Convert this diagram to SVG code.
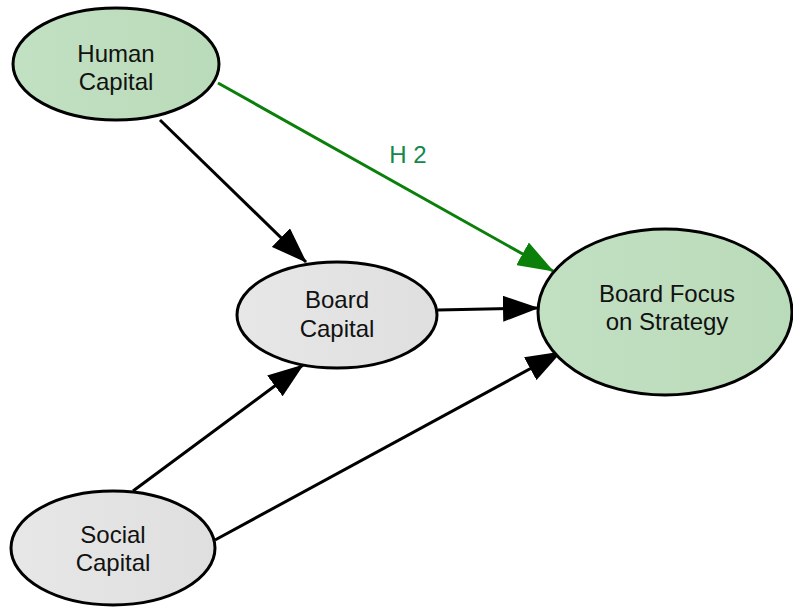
<svg xmlns="http://www.w3.org/2000/svg" width="793" height="610" viewBox="0 0 793 610">
<style>
  .node ellipse { stroke: #000; stroke-width: 3; }
  .green { fill: url(#gGreen); }
  .gray { fill: url(#gGray); }
  .lbl { font-family: "Liberation Sans", Arial, sans-serif; font-size: 24px; fill: #111; text-anchor: middle; }
  .edge { fill: none; stroke: #000; stroke-width: 3; }
  .edge.h { stroke: #0a800a; }
  .elbl { font-family: "Liberation Sans", Arial, sans-serif; font-size: 24px; fill: #12884a; text-anchor: middle; }
</style>
<defs>
  <linearGradient id="gGreen" x1="0" y1="0" x2="1" y2="0">
    <stop offset="0" stop-color="#c2e0c2"/>
    <stop offset="1" stop-color="#badbba"/>
  </linearGradient>
  <linearGradient id="gGray" x1="0" y1="0" x2="1" y2="0">
    <stop offset="0" stop-color="#e7e7e7"/>
    <stop offset="1" stop-color="#dfdfdf"/>
  </linearGradient>
  <marker id="arrB" markerUnits="userSpaceOnUse" viewBox="0 0 36 26" refX="35" refY="13" markerWidth="36" markerHeight="26" orient="auto">
    <path d="M0,0 L36,13 L0,26 z" fill="#000"/>
  </marker>
  <marker id="arrG" markerUnits="userSpaceOnUse" viewBox="0 0 36 26" refX="35" refY="13" markerWidth="36" markerHeight="26" orient="auto">
    <path d="M0,0 L36,13 L0,26 z" fill="#0a800a"/>
  </marker>
</defs>
<g id="connectors">
  <line class="edge" x1="160" y1="120" x2="306" y2="262" marker-end="url(#arrB)"/>
  <line class="edge h" x1="218" y1="83" x2="553" y2="271" marker-end="url(#arrG)"/>
  <text class="elbl" x="408" y="163">H 2</text>
  <line class="edge" x1="438" y1="310" x2="538" y2="308" marker-end="url(#arrB)"/>
  <line class="edge" x1="133" y1="491" x2="303" y2="365" marker-end="url(#arrB)"/>
  <line class="edge" x1="215" y1="540" x2="561" y2="352" marker-end="url(#arrB)"/>
</g>
<g id="human-capital" class="node">
  <ellipse class="green" cx="116" cy="64" rx="103" ry="56"/>
  <text class="lbl" x="116" y="62">Human</text>
  <text class="lbl" x="116" y="90">Capital</text>
</g>
<g id="board-capital" class="node">
  <ellipse class="gray" cx="337" cy="315" rx="100" ry="53"/>
  <text class="lbl" x="337" y="308">Board</text>
  <text class="lbl" x="337" y="337">Capital</text>
</g>
<g id="board-focus" class="node">
  <ellipse class="green" cx="665" cy="312" rx="127" ry="83"/>
  <text class="lbl" x="667" y="302">Board Focus</text>
  <text class="lbl" x="667" y="330">on Strategy</text>
</g>
<g id="social-capital" class="node">
  <ellipse class="gray" cx="113" cy="548" rx="102" ry="57"/>
  <text class="lbl" x="113" y="543">Social</text>
  <text class="lbl" x="113" y="571">Capital</text>
</g>
</svg>
